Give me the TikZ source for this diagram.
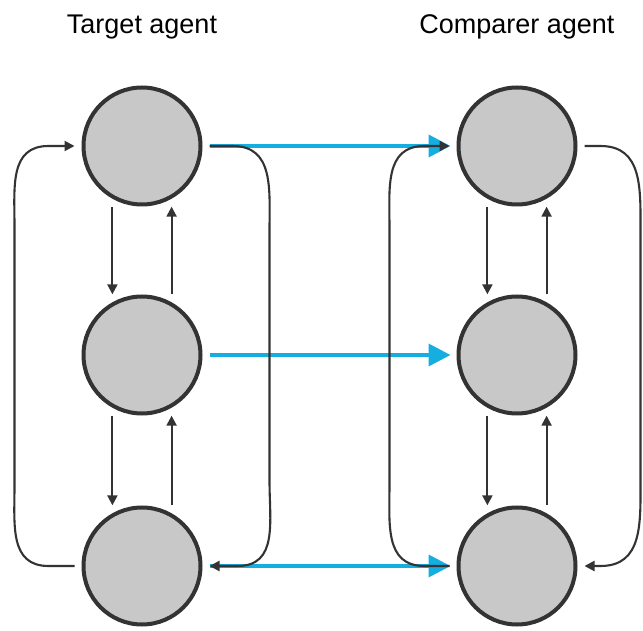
\documentclass[tikz,border=0pt]{standalone}
\usepackage{fontspec}
\setmainfont{Liberation Sans}
\usetikzlibrary{arrows.meta}

\definecolor{ringgray}{HTML}{333333}
\definecolor{fillgray}{HTML}{C8C8C8}
\definecolor{linkblue}{HTML}{14AEE0}

\tikzset{
  agent/.style={circle, draw=ringgray, fill=fillgray, line width=4pt,
    minimum size=117pt, inner sep=0pt, outer sep=9pt},
  flow/.style={draw=ringgray, line width=2.1pt,
    -{Triangle[length=10pt,width=10pt]}},
  link/.style={draw=linkblue, line width=3.8pt,
    -{Triangle[length=22pt,width=22pt]}, shorten >=-1pt},
  title/.style={font=\fontsize{27}{30}\selectfont, anchor=base}
}

\begin{document}
\begin{tikzpicture}[x=1pt,y=1pt]
  \useasboundingbox (0,0) rectangle (643,630);

  % column titles
  \node[title] (tt) at (142,596) {Target agent};
  \node[title] (ct) at (517,596) {Comparer agent};

  % target agent states
  \node[agent] (L1) at (142,484) {};
  \node[agent] (L2) at (142,275) {};
  \node[agent] (L3) at (142,64) {};

  % comparer agent states
  \node[agent] (R1) at (517,484) {};
  \node[agent] (R2) at (517,275) {};
  \node[agent] (R3) at (517,64) {};

  % links from target to comparer
  \draw[link] (L1.east) -- (R1.west);
  \draw[link] (L2.east) -- (R2.west);
  \draw[link] (L3.east) -- (R3.west);

  % transitions between neighbouring states
  \foreach \c in {L,R}{
    \draw[flow] (\c1.-116) -- (\c2.116);
    \draw[flow] (\c2.64) -- (\c1.-64);
    \draw[flow] (\c2.-116) -- (\c3.116);
    \draw[flow] (\c3.64) -- (\c2.-64);
  }

  % target agent: bottom back to top (outer left)
  \draw[flow] (L3.west) -- ++(-26,0) to[out=180,in=-90,looseness=1.15] ++(-34,80)
    -- ++(0,260) to[out=90,in=180,looseness=1.15] ++(34,80) -- (L1.west);
  % target agent: top down to bottom (right side)
  \draw[flow] (L1.east) -- ++(23,0) to[out=0,in=90,looseness=1.15] ++(37,-85)
    -- ++(0,-250) to[out=-90,in=0,looseness=1.15] ++(-32,-85) -- (L3.east);

  % comparer agent: bottom back to top (left side)
  \draw[flow] (R3.west) -- ++(-25,0) to[out=180,in=-90,looseness=1.15] ++(-35,82)
    -- ++(0,256) to[out=90,in=180,looseness=1.15] ++(35,82) -- (R1.west);
  % comparer agent: top down to bottom (outer right)
  \draw[flow] (R1.east) -- ++(16,0) to[out=0,in=90,looseness=1.15] ++(40,-85)
    -- ++(0,-250) to[out=-90,in=0,looseness=1.15] ++(-40,-85) -- (R3.east);
\end{tikzpicture}
\end{document}
